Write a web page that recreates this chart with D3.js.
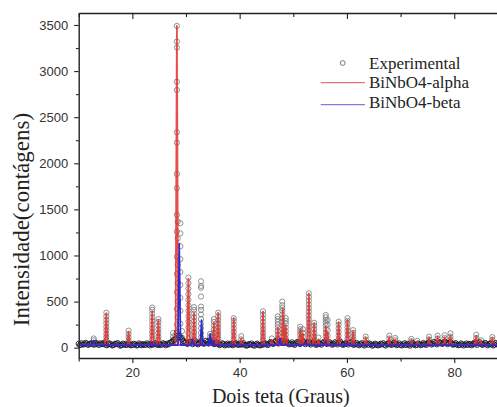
<!DOCTYPE html>
<html>
<head>
<meta charset="utf-8">
<script src="https://cdn.jsdelivr.net/npm/d3@7"></script>
<style>
  body { margin: 0; background: #fff; }
  svg { display: block; overflow: hidden; }
  .tick text { font-family: "Liberation Sans", Arial, sans-serif; font-size: 13px; fill: #333; }
</style>
</head>
<body>
<svg id="chart" width="497" height="407"></svg>
<script>
// axis ticks
const xMajor = [20, 40, 60, 80];
const xMinor = [10, 30, 50, 70, 90];
const yMajor = [0, 500, 1000, 1500, 2000, 2500, 3000, 3500];
const yMinor = [250, 750, 1250, 1750, 2250, 2750, 3250];

// experimental baseline, one value every 0.5 deg from 10 to 90
const expStep = 0.5;
const expBase = [
  42, 48, 36, 45, 39, 44, 35, 41, 47, 38,
  33, 40, 36, 29, 38, 34, 27, 36, 31, 35,
  30, 37, 28, 34, 39, 32, 36, 41, 35, 38,
  40, 33, 38, 44, 52, 68, 95, 130, 110, 72,
  55, 48, 60, 52, 45, 50, 58, 47, 62, 70,
  52, 45, 40, 35, 38, 33, 30, 37, 42, 36,
  45, 38, 30, 27, 33, 29, 35, 31, 28, 34,
  38, 45, 52, 60, 58, 65, 70, 55, 48, 42,
  40, 46, 55, 48, 60, 52, 45, 50, 44, 38,
  42, 50, 55, 48, 45, 40, 47, 52, 43, 38,
  45, 50, 42, 38, 35, 40, 33, 37, 31, 35,
  30, 34, 28, 36, 32, 39, 42, 36, 40, 34,
  31, 36, 29, 33, 38, 35, 30, 37, 33, 40,
  44, 48, 42, 50, 46, 52, 48, 55, 50, 45,
  38, 34, 31, 36, 33, 29, 35, 40, 44, 47,
  42, 38, 35, 40, 36, 33, 38, 42, 39, 36,
  38
];
// in-between readings, from 10.25 to 89.75
const expBaseMid = [
  28, 35, 52, 30, 47, 33, 50, 29, 40, 55,
  26, 46, 24, 42, 50, 22, 44, 30, 48, 25,
  43, 24, 46, 27, 30, 47, 25, 33, 49, 28,
  30, 48, 26, 36, 60, 80, 160, 125, 90, 58,
  40, 65, 38, 70, 36, 66, 42, 75, 44, 55,
  38, 60, 28, 48, 25, 45, 42, 26, 50, 29,
  33, 48, 22, 40, 45, 21, 44, 24, 42, 47,
  28, 60, 40, 72, 45, 75, 50, 68, 35, 58,
  30, 62, 40, 70, 38, 65, 34, 60, 30, 52,
  33, 64, 40, 60, 32, 58, 35, 64, 30, 50,
  34, 60, 30, 52, 26, 48, 24, 46, 45, 22,
  44, 25, 42, 48, 23, 50, 30, 52, 28, 46,
  24, 48, 42, 22, 50, 26, 46, 28, 50, 30,
  58, 34, 62, 36, 60, 40, 64, 38, 62, 32,
  50, 26, 46, 24, 45, 42, 25, 55, 30, 60,
  30, 52, 26, 48, 24, 50, 28, 55, 27, 48
];

// experimental points on the peaks: [2theta, counts...]
const expPeaks = [
  [12.8, [100, 80]],
  [15.15, [380, 340, 300, 265, 225, 190, 150, 115, 80]],
  [19.3, [185, 150, 115, 80]],
  [23.7, [435, 410, 370, 330, 290, 250, 210, 170, 130, 90]],
  [24.85, [310, 280, 240, 200, 160, 120, 85]],
  [27.6, [160, 120, 90]],
  [28.3, [3490, 3320, 3255, 2885, 2795, 2336, 2224, 1884, 1729, 1440, 1258, 987, 800, 600, 420, 250, 130]],
  [28.45, [1367, 1186, 900, 700, 500, 330, 180]],
  [28.95, [1350, 1240, 1100, 960, 820, 680, 540, 400, 260]],
  [29.25, [180, 110]],
  [30.45, [760, 700, 640, 580, 520, 460, 400, 340, 280, 220, 160, 100]],
  [31.5, [440, 410, 370, 330, 290, 250, 210, 170, 130, 90]],
  [32.8, [720, 670, 650, 555, 445, 410, 360, 310, 260, 210, 160, 110]],
  [34.5, [150, 120, 90]],
  [35.2, [310, 280, 240, 200, 160, 120, 85]],
  [36.0, [380, 340, 300, 260, 220, 180, 140, 100]],
  [38.9, [320, 290, 250, 210, 170, 130, 90]],
  [40.3, [125, 90]],
  [44.35, [395, 360, 320, 280, 240, 200, 160, 120, 85]],
  [46.0, [100]],
  [47.1, [340, 310, 280, 250, 220, 180, 140, 100]],
  [47.95, [500, 460, 430, 400, 360, 320, 280, 240, 200, 160, 120]],
  [48.6, [320, 290, 260, 220, 180, 140, 100]],
  [51.3, [228, 200, 170, 140, 105]],
  [51.8, [200, 160, 120]],
  [52.9, [590, 550, 510, 470, 430, 390, 350, 310, 270, 230, 190, 150, 110]],
  [53.9, [270, 240, 200, 160, 120, 85]],
  [54.7, [110]],
  [56.05, [355, 330, 300, 270, 240, 200, 160, 120]],
  [56.4, [300, 250, 190, 130]],
  [58.45, [282, 250, 210, 170, 130, 90]],
  [60.1, [320, 290, 260, 220, 180, 140, 100]],
  [61.15, [190, 160, 125, 90]],
  [63.5, [120, 90]],
  [67.9, [130, 100]],
  [69.0, [105, 80]],
  [72.0, [95, 70]],
  [73.1, [75]],
  [75.3, [120, 90]],
  [76.9, [130, 100]],
  [78.2, [135, 105]],
  [79.3, [156, 120, 90]],
  [84.1, [140, 105]],
  [85.0, [80]],
  [87.1, [115, 85]]
];

// calculated patterns: peak [2theta, counts]
const alphaBase = 30;
const alphaPeaks = [
  [15.15, 375], [19.3, 170], [23.7, 390], [24.85, 300], [28.3, 3490],
  [30.45, 750], [31.5, 375], [32.8, 140], [35.2, 270], [36.0, 380],
  [38.9, 320], [40.3, 100], [44.35, 390], [46.0, 80], [47.1, 220],
  [48.05, 420], [48.6, 240], [51.3, 200], [51.8, 150], [52.9, 590],
  [53.9, 265], [54.7, 90], [56.05, 230], [56.4, 160], [58.45, 275],
  [60.1, 300], [61.15, 180], [63.5, 110], [67.9, 115], [69.0, 90],
  [72.0, 85], [73.1, 60], [75.3, 110], [76.9, 120], [78.2, 115],
  [79.3, 130], [84.1, 130], [85.0, 70], [87.1, 110]
];
const betaBase = 28;
const betaPeaks = [
  [12.8, 80], [23.6, 60], [28.75, 1130], [31.2, 90], [32.9, 300],
  [34.5, 150], [35.1, 80], [47.5, 100], [52.2, 60], [56.0, 70], [60.0, 60]
];

const svg = d3.select("#chart");
const x = d3.scaleLinear().domain([10, 90]).range([78.7, 507.9]);
const y = d3.scaleLinear().domain([-112, 3630]).range([358, 13]);

// build polyline vertices from peaks
function profile(peaks, base, hw) {
  const pts = [[10, base]];
  peaks.forEach(([p, h]) => {
    pts.push([p - hw, base], [p, h], [p + hw, base]);
  });
  pts.push([90, base]);
  return pts;
}

const line = d3.line().x(d => x(d[0])).y(d => y(d[1]));

// experimental circles
const basePts = expBase.map((v, i) => [10 + i * expStep, v])
  .concat(expBaseMid.map((v, i) => [10.25 + i * expStep, v]));
const peakPts = [];
expPeaks.forEach(([p, hs]) => hs.forEach(h => peakPts.push([p, h])));

const plot = svg.append("g");
plot.selectAll("circle.peak")
  .data(peakPts)
  .enter()
  .append("circle")
  .attr("class", "peak")
  .attr("cx", d => x(d[0]))
  .attr("cy", d => y(d[1]))
  .attr("r", 2.6)
  .attr("fill", "none")
  .attr("stroke", "#777")
  .attr("stroke-width", 0.8);

plot.selectAll("circle.base")
  .data(basePts)
  .enter()
  .append("circle")
  .attr("class", "base")
  .attr("cx", d => x(d[0]))
  .attr("cy", d => y(d[1]))
  .attr("r", 2.6)
  .attr("fill", "none")
  .attr("stroke", "#1a1a2a")
  .attr("stroke-width", 0.9);

plot.append("path")
  .datum(profile(alphaPeaks, alphaBase, 0.24))
  .attr("fill", "none")
  .attr("stroke", "#e3302e")
  .attr("stroke-width", 1.8)
  .attr("stroke-opacity", 0.85)
  .attr("stroke-linejoin", "round")
  .attr("d", line);

plot.append("path")
  .datum(profile(betaPeaks, betaBase, 0.25))
  .attr("fill", "none")
  .attr("stroke", "#2a2ad0")
  .attr("stroke-width", 1.6)
  .attr("stroke-linejoin", "round")
  .attr("d", line);

// axes
const gl = svg.append("g").attr("transform", "translate(78.7,0)");
gl.call(d3.axisLeft(y).tickValues(yMajor).tickFormat(d3.format("d")).tickSize(4.5).tickPadding(6).tickSizeOuter(0));
gl.append("g").call(d3.axisLeft(y).tickValues(yMinor).tickSize(2.7).tickFormat("").tickSizeOuter(0))
  .select(".domain").remove();

const gb = svg.append("g").attr("transform", "translate(0,358)");
gb.call(d3.axisBottom(x).tickValues(xMajor).tickSize(5).tickPadding(5).tickSizeOuter(0));
gb.append("g").call(d3.axisBottom(x).tickValues(xMinor).tickSize(3.5).tickFormat("").tickSizeOuter(0))
  .select(".domain").remove();

const gt = svg.append("g").attr("transform", "translate(0,13)");
gt.call(d3.axisTop(x).tickValues(xMajor).tickSize(-6).tickFormat("").tickSizeOuter(0));
gt.append("g").call(d3.axisTop(x).tickValues(xMinor).tickSize(-4).tickFormat("").tickSizeOuter(0))
  .select(".domain").remove();

svg.selectAll(".domain").attr("stroke", "#222").attr("stroke-width", 1.4);
svg.selectAll(".tick line").attr("stroke", "#222").attr("stroke-width", 1.1);

// axis titles
svg.append("text")
  .attr("x", 280.8)
  .attr("y", 403)
  .attr("text-anchor", "middle")
  .style("font-family", "'Liberation Serif', 'Times New Roman', serif")
  .style("font-size", "20px")
  .style("fill", "#222")
  .text("Dois teta (Graus)");

svg.append("text")
  .attr("transform", "translate(28.5,219.5) rotate(-90)")
  .attr("text-anchor", "middle")
  .style("font-family", "'Liberation Serif', 'Times New Roman', serif")
  .style("font-size", "23px")
  .style("fill", "#222")
  .text("Intensidade(contágens)");

// legend
const legend = svg.append("g")
  .style("font-family", "'Liberation Serif', 'Times New Roman', serif")
  .style("font-size", "17px")
  .style("fill", "#222");

legend.append("circle")
  .attr("cx", 342.7).attr("cy", 63)
  .attr("r", 2.4)
  .attr("fill", "none")
  .attr("stroke", "#555")
  .attr("stroke-width", 0.8);
legend.append("text").attr("x", 369).attr("y", 68.5).text("Experimental");

legend.append("line")
  .attr("x1", 320.7).attr("x2", 365).attr("y1", 82.7).attr("y2", 82.7)
  .attr("stroke", "#ec7272").attr("stroke-width", 1.2);
legend.append("text").attr("x", 369).attr("y", 88).text("BiNbO4-alpha");

legend.append("line")
  .attr("x1", 320.7).attr("x2", 365).attr("y1", 104.6).attr("y2", 104.6)
  .attr("stroke", "#7f7fe0").attr("stroke-width", 1.2);
legend.append("text").attr("x", 369).attr("y", 107.5).text("BiNbO4-beta");
</script>
</body>
</html>
